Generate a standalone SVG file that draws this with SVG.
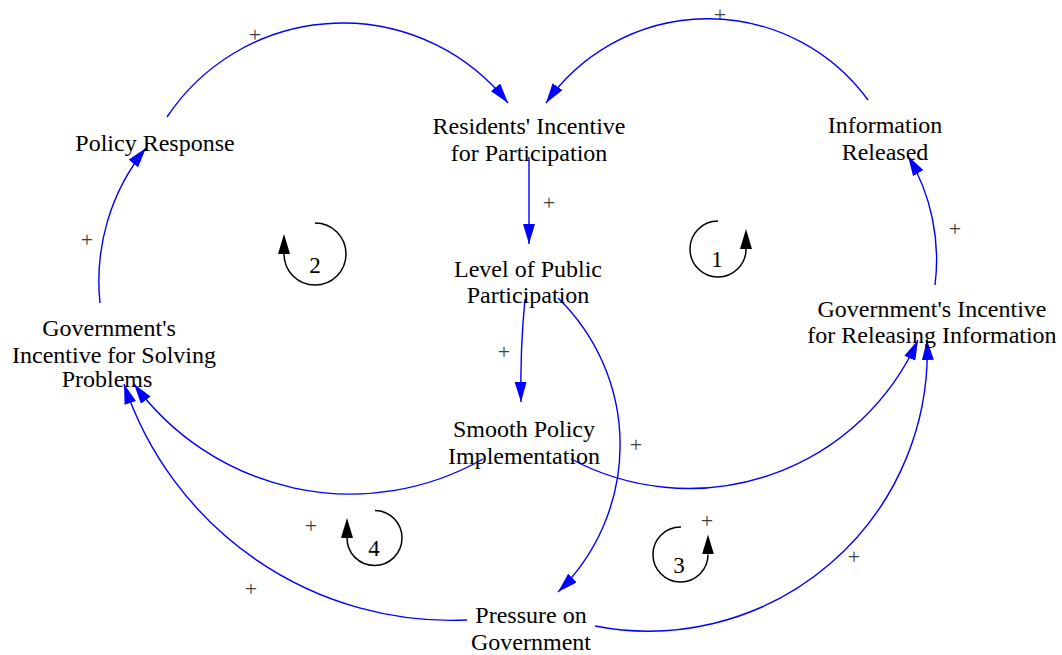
<svg xmlns="http://www.w3.org/2000/svg" width="1062" height="655" viewBox="0 0 1062 655">
<style>
.lbl{font-family:"Liberation Serif","Times New Roman",serif;font-size:24px;fill:#000;text-anchor:middle}
.pol{font-family:"Liberation Serif","Times New Roman",serif;font-size:22px;fill:#404040;text-anchor:middle}
.num{font-family:"Liberation Serif","Times New Roman",serif;font-size:23px;fill:#000;text-anchor:middle}
.lnk{fill:none;stroke:#0000FF;stroke-width:1.4;marker-end:url(#ah)}
.loop{fill:none;stroke:#000;stroke-width:1.5;marker-end:url(#lh)}
</style>
<defs>
<marker id="ah" markerUnits="userSpaceOnUse" markerWidth="20" markerHeight="12" refX="20" refY="6" orient="auto">
<path d="M0,0 L20,6 L0,12 z" fill="#0000FF"/>
</marker>
<marker id="lh" markerUnits="userSpaceOnUse" markerWidth="21" markerHeight="12" refX="0" refY="6" orient="auto">
<path d="M0,0 L20,6 L0,12 z" fill="#000"/>
</marker>
</defs>
<rect width="1062" height="655" fill="#fff"/>
<g id="connectors">
<path class="lnk" d="M167,117 A211,211 0 0 1 508,103"/>
<path class="lnk" d="M868,100 A198,198 0 0 0 546,103"/>
<path class="lnk" d="M529,157 L529,244"/>
<path class="lnk" d="M525,299 Q520,350 521,402"/>
<path class="lnk" d="M558,298 A205,205 0 0 1 558,592"/>
<path class="lnk" d="M100,303 A211,211 0 0 1 146,148"/>
<path class="lnk" d="M935,285 A202,202 0 0 0 908,156"/>
<path class="lnk" d="M483,459 A268,268 0 0 1 134,384"/>
<path class="lnk" d="M571,459 A251,251 0 0 0 918,340"/>
<path class="lnk" d="M467,620 A345,345 0 0 1 124,384"/>
<path class="lnk" d="M595,626 A279,279 0 0 0 927,340"/>
</g>
<g id="polarities">
<text class="pol" x="255" y="42">+</text>
<text class="pol" x="720" y="22">+</text>
<text class="pol" x="549" y="210">+</text>
<text class="pol" x="87" y="247">+</text>
<text class="pol" x="955" y="236">+</text>
<text class="pol" x="504" y="359">+</text>
<text class="pol" x="636" y="452">+</text>
<text class="pol" x="311" y="533">+</text>
<text class="pol" x="251" y="596">+</text>
<text class="pol" x="707" y="528">+</text>
<text class="pol" x="854" y="564">+</text>
</g>
<g id="loop1">
<path class="loop" d="M718,221 A28,28 0 1 0 746,249"/>
<text class="num" x="717" y="267">1</text>
</g>
<g id="loop2">
<path class="loop" d="M315,223 A31,31 0 1 1 284,254"/>
<text class="num" x="315" y="273">2</text>
</g>
<g id="loop3">
<path class="loop" d="M681,527 A27.5,27.5 0 1 0 708,554.5"/>
<text class="num" x="679" y="573">3</text>
</g>
<g id="loop4">
<path class="loop" d="M375,510.5 A27.5,27.5 0 1 1 347,538"/>
<text class="num" x="374" y="556">4</text>
</g>
<g id="residents_incentive">
<text class="lbl" x="529" y="134">Residents' Incentive</text>
<text class="lbl" x="529" y="161">for Participation</text>
</g>
<g id="level_participation">
<text class="lbl" x="528" y="277">Level of Public</text>
<text class="lbl" x="528" y="303">Participation</text>
</g>
<g id="smooth_policy">
<text class="lbl" x="524" y="437">Smooth Policy</text>
<text class="lbl" x="524" y="464">Implementation</text>
</g>
<g id="pressure">
<text class="lbl" x="531" y="623">Pressure on</text>
<text class="lbl" x="531" y="650">Government</text>
</g>
<g id="policy_response">
<text class="lbl" x="155" y="151">Policy Response</text>
</g>
<g id="information_released">
<text class="lbl" x="885" y="133">Information</text>
<text class="lbl" x="885" y="160">Released</text>
</g>
<g id="gov_solving">
<text class="lbl" x="109" y="336">Government's</text>
<text class="lbl" x="114" y="363">Incentive for Solving</text>
<text class="lbl" x="107" y="387">Problems</text>
</g>
<g id="gov_releasing">
<text class="lbl" x="932" y="317">Government's Incentive</text>
<text class="lbl" x="932" y="343">for Releasing Information</text>
</g>
</svg>
